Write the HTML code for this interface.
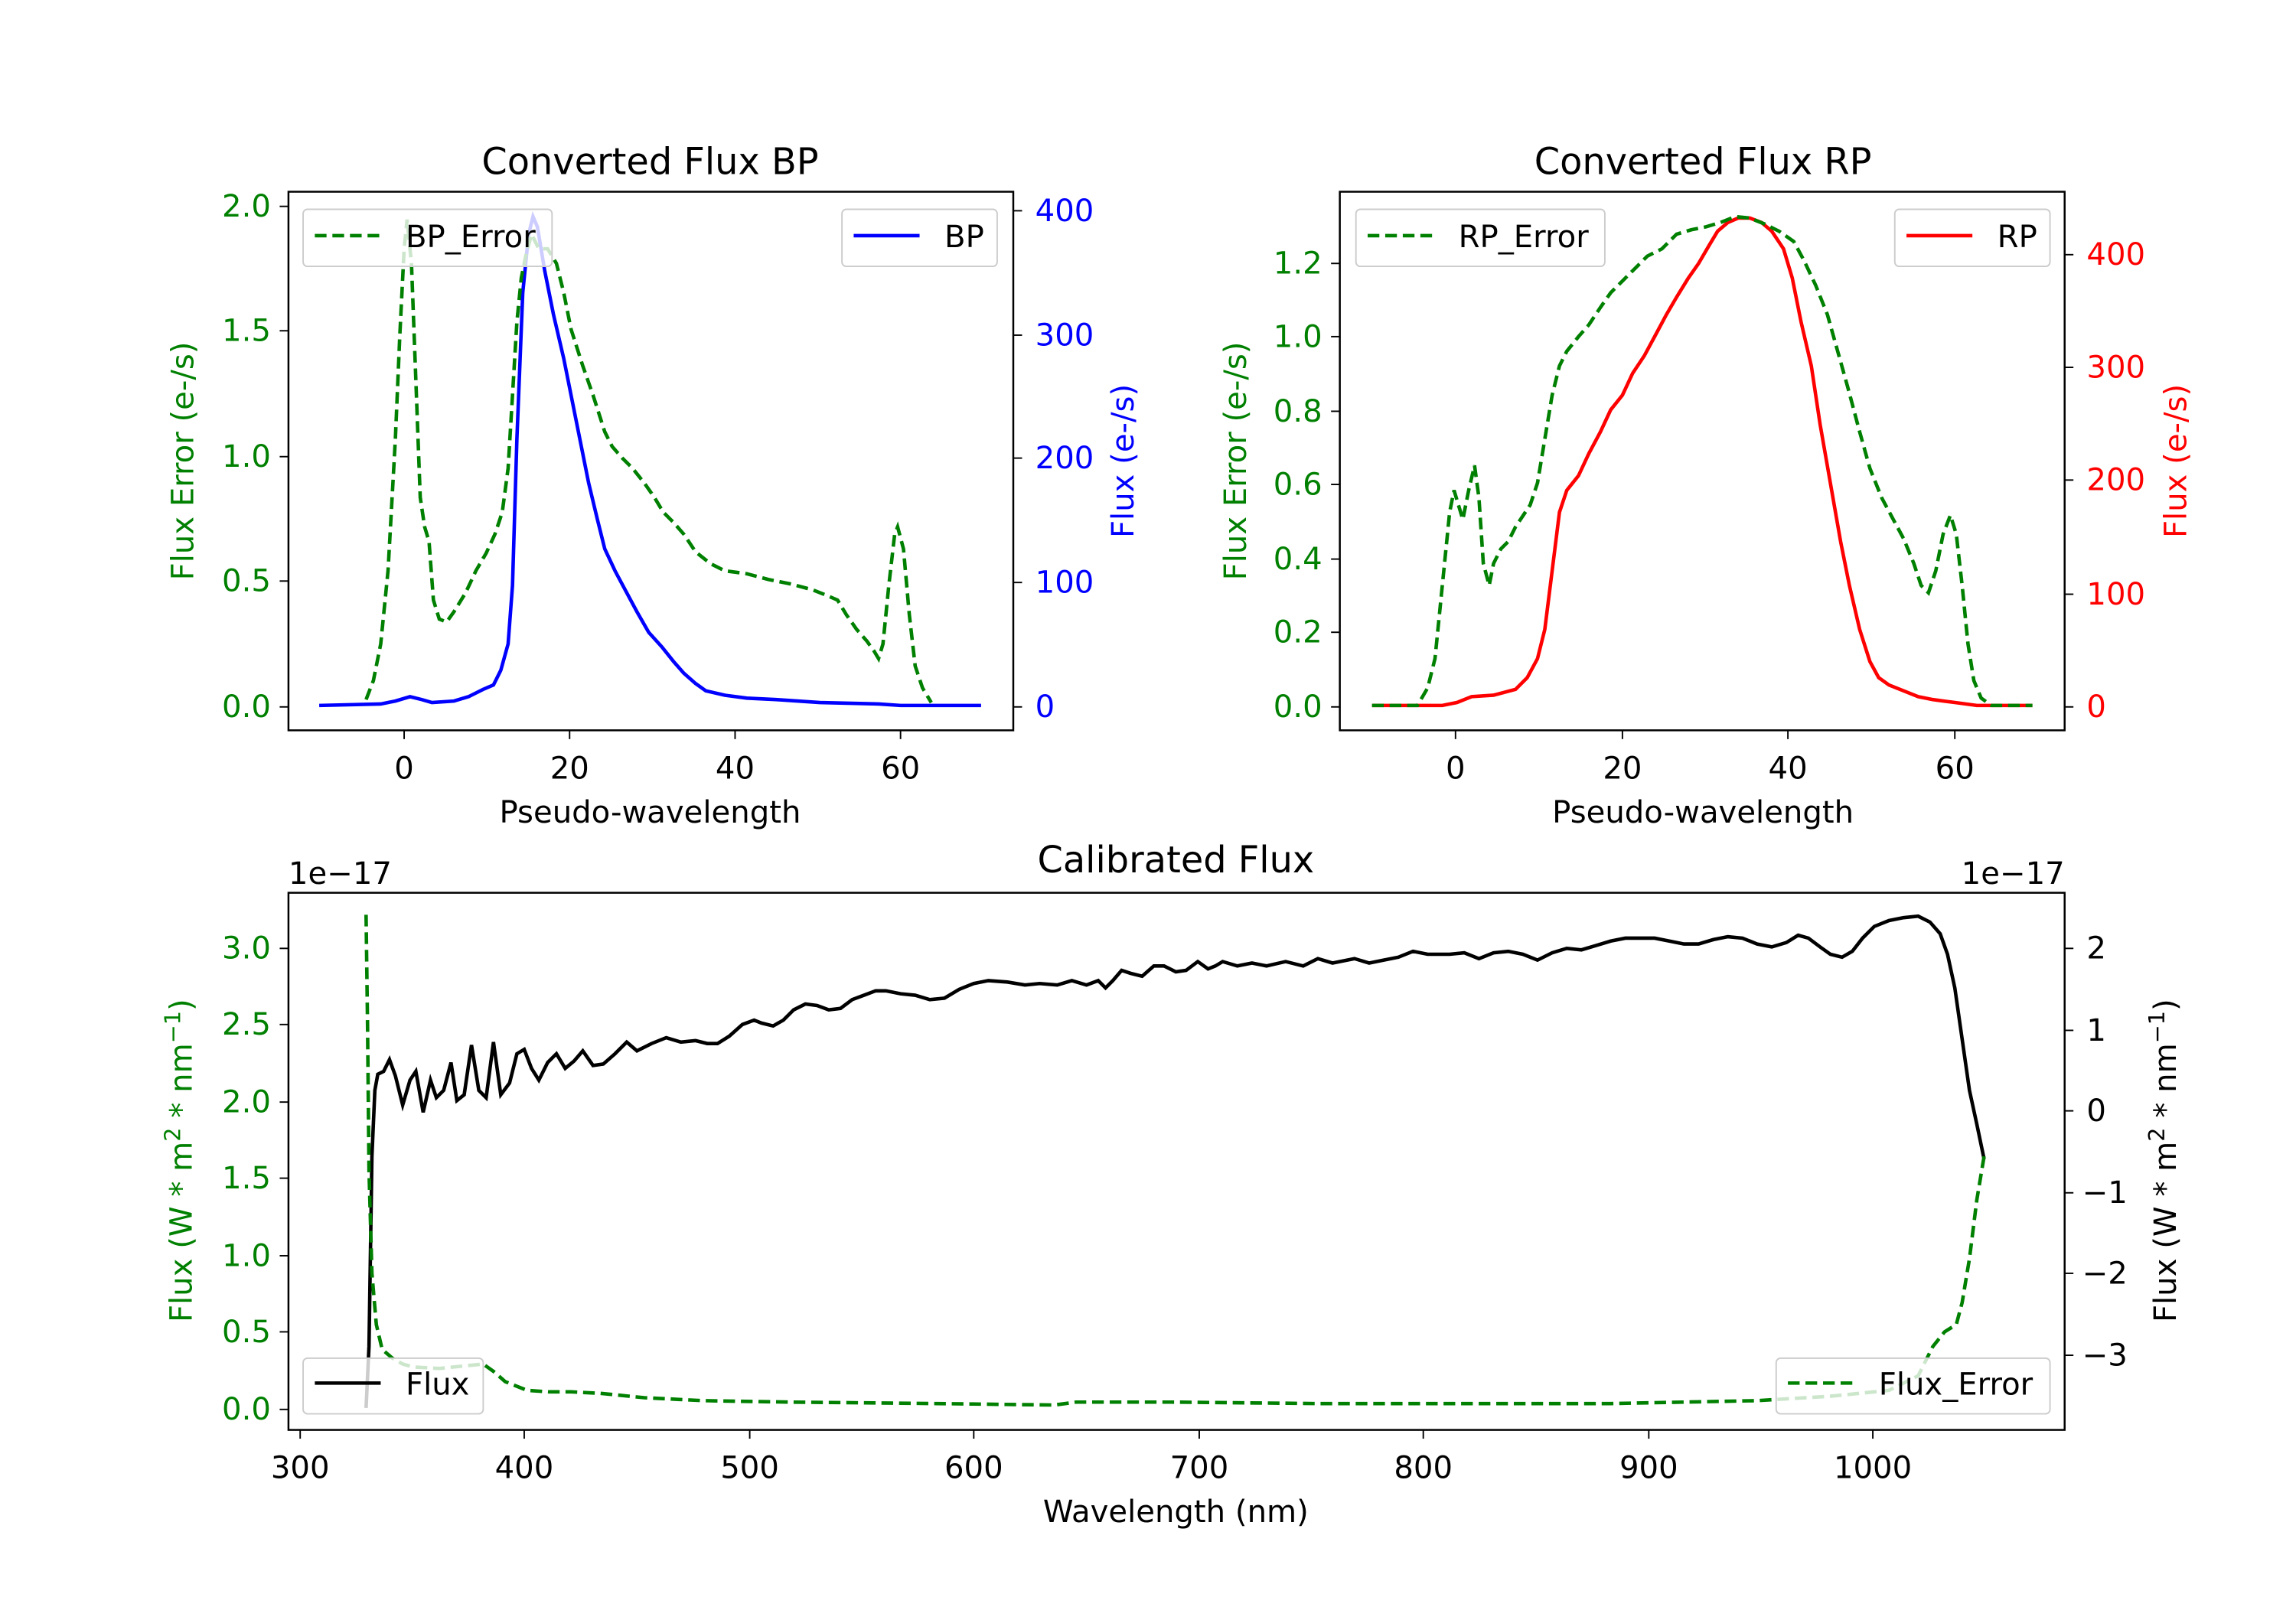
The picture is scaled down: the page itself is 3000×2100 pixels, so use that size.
<!DOCTYPE html>
<html><head><meta charset="utf-8"><style>html,body{margin:0;padding:0;background:#fff}svg{display:block}text{font-family:"DejaVu Sans","Liberation Sans",sans-serif}</style></head><body>
<svg width="3000" height="2100" viewBox="0 0 1568 1098" preserveAspectRatio="none" xmlns="http://www.w3.org/2000/svg">
<rect width="1568" height="1098" fill="#fff"/>
<g font-size="21">
<!-- BP axes -->
<text x="444" y="119" font-size="25" text-anchor="middle">Converted Flux BP</text>
<polyline fill="none" stroke="#00f" stroke-width="2.4" points="218,482 260,481 270,479 280,476 288,478 295,480 310,479 320,476 330,471 337,468 342,458 347,440 350,400 353,300 357,200 361,160 364,148 367,155 372,185 378,215 385,245 390,270 396,300 402,330 408,355 413,375 420,390 428,405 435,418 443,432 452,442 460,452 467,460 475,467 482,472 495,475 510,477 530,478 560,480 600,481 615,482 670,482"/>
<polyline fill="none" stroke="#008000" stroke-width="2.4" stroke-dasharray="8,4" points="250,478 255,465 260,440 265,390 270,300 273,230 276,170 278,150 281,180 284,260 287,340 290,360 293,370 296,410 300,423 305,425 310,418 318,405 325,390 332,378 338,365 343,350 347,320 350,270 353,220 356,190 359,175 363,160 368,170 374,170 380,180 385,200 390,225 398,250 405,270 413,295 418,305 425,313 432,320 440,330 447,340 453,350 460,357 467,365 475,377 485,385 495,390 510,392 525,396 540,399 555,403 565,407 572,410 578,420 585,430 592,438 597,445 600,450 603,440 607,400 611,365 613,360 617,375 621,420 625,455 630,470 636,480"/>
<rect x="197" y="131" width="495" height="368" fill="none" stroke="#000" stroke-width="1.3"/>
<rect x="207" y="143" width="170" height="39" rx="3" fill="#fff" fill-opacity="0.8" stroke="#ccc"/>
<line x1="215" y1="161" x2="260" y2="161" stroke="#008000" stroke-width="2.4" stroke-dasharray="8,4"/>
<text x="277" y="169">BP_Error</text>
<rect x="575" y="143" width="106" height="39" rx="3" fill="#fff" fill-opacity="0.8" stroke="#ccc"/>
<line x1="583" y1="161" x2="628" y2="161" stroke="#00f" stroke-width="2.4"/>
<text x="645" y="169">BP</text>
<g stroke="#000"><line x1="276" y1="499" x2="276" y2="505"/><line x1="389" y1="499" x2="389" y2="505"/><line x1="502" y1="499" x2="502" y2="505"/><line x1="615" y1="499" x2="615" y2="505"/></g>
<g text-anchor="middle"><text x="276" y="532">0</text><text x="389" y="532">20</text><text x="502" y="532">40</text><text x="615" y="532">60</text></g>
<text x="444" y="562" text-anchor="middle">Pseudo-wavelength</text>
<g stroke="#000"><line x1="191" y1="483" x2="197" y2="483"/><line x1="191" y1="397" x2="197" y2="397"/><line x1="191" y1="312" x2="197" y2="312"/><line x1="191" y1="226" x2="197" y2="226"/><line x1="191" y1="141" x2="197" y2="141"/></g>
<g fill="#008000" text-anchor="end"><text x="185" y="490">0.0</text><text x="185" y="404">0.5</text><text x="185" y="319">1.0</text><text x="185" y="233">1.5</text><text x="185" y="148">2.0</text></g>
<text transform="translate(132,315) rotate(-90)" fill="#008000" text-anchor="middle">Flux Error (e-/s)</text>
<g stroke="#000"><line x1="692" y1="483" x2="698" y2="483"/><line x1="692" y1="398" x2="698" y2="398"/><line x1="692" y1="313" x2="698" y2="313"/><line x1="692" y1="229" x2="698" y2="229"/><line x1="692" y1="144" x2="698" y2="144"/></g>
<g fill="#00f"><text x="707" y="490">0</text><text x="707" y="405">100</text><text x="707" y="320">200</text><text x="707" y="236">300</text><text x="707" y="151">400</text></g>
<text transform="translate(774,315) rotate(-90)" fill="#00f" text-anchor="middle">Flux (e-/s)</text>

<!-- RP axes -->
<text x="1163" y="119" font-size="25" text-anchor="middle">Converted Flux RP</text>
<polyline fill="none" stroke="#f00" stroke-width="2.4" points="937,482 985,482 995,480 1005,476 1020,475 1035,471 1043,463 1050,450 1055,430 1060,390 1065,350 1070,335 1078,325 1085,310 1093,295 1100,280 1108,270 1115,255 1123,243 1130,230 1138,215 1145,203 1153,190 1160,180 1167,168 1173,158 1180,152 1187,149 1195,149 1203,152 1210,158 1218,170 1224,190 1230,220 1237,250 1243,290 1250,330 1257,370 1263,400 1270,430 1277,452 1283,463 1290,468 1300,472 1310,476 1320,478 1335,480 1350,482 1388,482"/>
<polyline fill="none" stroke="#008000" stroke-width="2.4" stroke-dasharray="8,4" points="937,482 968,482 975,470 980,450 985,400 990,350 993,335 996,345 999,355 1003,335 1007,318 1010,340 1013,385 1017,400 1020,385 1025,375 1030,370 1035,360 1045,345 1050,330 1055,300 1060,270 1065,250 1070,240 1078,230 1085,222 1093,210 1100,200 1108,192 1115,185 1125,175 1135,170 1145,160 1155,157 1165,155 1175,152 1185,148 1195,149 1205,153 1215,158 1225,165 1232,178 1240,195 1248,215 1255,240 1262,265 1270,295 1277,320 1285,340 1293,355 1300,368 1307,385 1312,400 1317,405 1322,390 1327,365 1332,352 1336,365 1340,400 1344,440 1348,465 1353,477 1360,482 1388,482"/>
<rect x="915" y="131" width="495" height="368" fill="none" stroke="#000" stroke-width="1.3"/>
<rect x="926" y="143" width="170" height="39" rx="3" fill="#fff" fill-opacity="0.8" stroke="#ccc"/>
<line x1="934" y1="161" x2="979" y2="161" stroke="#008000" stroke-width="2.4" stroke-dasharray="8,4"/>
<text x="996" y="169">RP_Error</text>
<rect x="1294" y="143" width="106" height="39" rx="3" fill="#fff" fill-opacity="0.8" stroke="#ccc"/>
<line x1="1302" y1="161" x2="1347" y2="161" stroke="#f00" stroke-width="2.4"/>
<text x="1364" y="169">RP</text>
<g stroke="#000"><line x1="994" y1="499" x2="994" y2="505"/><line x1="1108" y1="499" x2="1108" y2="505"/><line x1="1221" y1="499" x2="1221" y2="505"/><line x1="1335" y1="499" x2="1335" y2="505"/></g>
<g text-anchor="middle"><text x="994" y="532">0</text><text x="1108" y="532">20</text><text x="1221" y="532">40</text><text x="1335" y="532">60</text></g>
<text x="1163" y="562" text-anchor="middle">Pseudo-wavelength</text>
<g stroke="#000"><line x1="909" y1="483" x2="915" y2="483"/><line x1="909" y1="432" x2="915" y2="432"/><line x1="909" y1="382" x2="915" y2="382"/><line x1="909" y1="331" x2="915" y2="331"/><line x1="909" y1="281" x2="915" y2="281"/><line x1="909" y1="230" x2="915" y2="230"/><line x1="909" y1="180" x2="915" y2="180"/></g>
<g fill="#008000" text-anchor="end"><text x="903" y="490">0.0</text><text x="903" y="439">0.2</text><text x="903" y="389">0.4</text><text x="903" y="338">0.6</text><text x="903" y="288">0.8</text><text x="903" y="237">1.0</text><text x="903" y="187">1.2</text></g>
<text transform="translate(851,315) rotate(-90)" fill="#008000" text-anchor="middle">Flux Error (e-/s)</text>
<g stroke="#000"><line x1="1410" y1="483" x2="1416" y2="483"/><line x1="1410" y1="406" x2="1416" y2="406"/><line x1="1410" y1="328" x2="1416" y2="328"/><line x1="1410" y1="251" x2="1416" y2="251"/><line x1="1410" y1="174" x2="1416" y2="174"/></g>
<g fill="#f00"><text x="1425" y="490">0</text><text x="1425" y="413">100</text><text x="1425" y="335">200</text><text x="1425" y="258">300</text><text x="1425" y="181">400</text></g>
<text transform="translate(1493,315) rotate(-90)" fill="#f00" text-anchor="middle">Flux (e-/s)</text>

<!-- Bottom axes -->
<text x="803" y="596" font-size="25" text-anchor="middle">Calibrated Flux</text>
<text x="197" y="604">1e−17</text>
<text x="1410" y="604" text-anchor="end">1e−17</text>
<polyline fill="none" stroke="#000" stroke-width="2.4" points="250,962 252,920 254,790 256,745 258,734 262,732 266,724 270,735 275,755 280,738 284,732 289,760 294,738 298,750 303,745 308,726 312,752 317,748 322,714 327,745 332,750 337,712 342,748 348,740 353,720 358,717 363,730 368,738 374,726 380,720 386,730 392,725 398,718 405,728 412,727 420,720 428,712 435,718 445,713 455,709 465,712 475,711 483,713 490,713 498,708 507,700 515,697 520,699 528,701 535,697 542,690 550,686 558,687 566,690 574,689 582,683 590,680 598,677 605,677 615,679 625,680 635,683 645,682 655,676 665,672 675,670 688,671 700,673 710,672 722,673 732,670 742,673 750,670 755,675 760,670 766,663 772,665 780,667 788,660 795,660 803,664 810,663 818,657 825,662 830,660 835,657 845,660 855,658 865,660 878,657 890,660 900,655 910,658 925,655 935,658 945,656 955,654 965,650 975,652 990,652 1000,651 1010,655 1020,651 1030,650 1040,652 1050,656 1060,651 1070,648 1080,649 1090,646 1100,643 1110,641 1120,641 1130,641 1140,643 1150,645 1160,645 1170,642 1180,640 1190,641 1200,645 1210,647 1220,644 1228,639 1235,641 1243,647 1250,652 1258,654 1265,650 1272,641 1280,633 1290,629 1300,627 1310,626 1318,630 1325,638 1330,652 1335,675 1340,710 1345,745 1350,768 1355,792"/>
<polyline fill="none" stroke="#008000" stroke-width="2.4" stroke-dasharray="8,4" points="250,625 251,700 252,800 254,870 257,905 261,922 268,928 275,932 282,934 300,935 320,933 330,932 337,937 345,944 360,950 375,951 390,951 410,952 440,955 480,957 540,958 640,959 720,960 735,958 800,958 900,959 1000,959 1100,959 1200,957 1250,954 1290,950 1310,940 1320,920 1328,910 1336,905 1340,890 1345,860 1350,820 1355,790"/>
<rect x="197" y="610" width="1213" height="367" fill="none" stroke="#000" stroke-width="1.3"/>
<rect x="207" y="928" width="123" height="38" rx="3" fill="#fff" fill-opacity="0.8" stroke="#ccc"/>
<line x1="215" y1="945" x2="260" y2="945" stroke="#000" stroke-width="2.4"/>
<text x="277" y="953">Flux</text>
<rect x="1213" y="928" width="187" height="38" rx="3" fill="#fff" fill-opacity="0.8" stroke="#ccc"/>
<line x1="1221" y1="945" x2="1266" y2="945" stroke="#008000" stroke-width="2.4" stroke-dasharray="8,4"/>
<text x="1283" y="953">Flux_Error</text>
<g stroke="#000"><line x1="205" y1="977" x2="205" y2="983"/><line x1="358" y1="977" x2="358" y2="983"/><line x1="512" y1="977" x2="512" y2="983"/><line x1="665" y1="977" x2="665" y2="983"/><line x1="819" y1="977" x2="819" y2="983"/><line x1="972" y1="977" x2="972" y2="983"/><line x1="1126" y1="977" x2="1126" y2="983"/><line x1="1279" y1="977" x2="1279" y2="983"/></g>
<g text-anchor="middle"><text x="205" y="1010">300</text><text x="358" y="1010">400</text><text x="512" y="1010">500</text><text x="665" y="1010">600</text><text x="819" y="1010">700</text><text x="972" y="1010">800</text><text x="1126" y="1010">900</text><text x="1279" y="1010">1000</text></g>
<text x="803" y="1040" text-anchor="middle">Wavelength (nm)</text>
<g stroke="#000"><line x1="191" y1="963" x2="197" y2="963"/><line x1="191" y1="910" x2="197" y2="910"/><line x1="191" y1="858" x2="197" y2="858"/><line x1="191" y1="805" x2="197" y2="805"/><line x1="191" y1="753" x2="197" y2="753"/><line x1="191" y1="700" x2="197" y2="700"/><line x1="191" y1="648" x2="197" y2="648"/></g>
<g fill="#008000" text-anchor="end"><text x="185" y="970">0.0</text><text x="185" y="917">0.5</text><text x="185" y="865">1.0</text><text x="185" y="812">1.5</text><text x="185" y="760">2.0</text><text x="185" y="707">2.5</text><text x="185" y="655">3.0</text></g>
<text transform="translate(131,793) rotate(-90)" fill="#008000" text-anchor="middle">Flux (W * m<tspan font-size="15" dy="-8">2</tspan><tspan dy="8"> * nm</tspan><tspan font-size="15" dy="-8">−1</tspan><tspan dy="8">)</tspan></text>
<g stroke="#000"><line x1="1410" y1="926" x2="1416" y2="926"/><line x1="1410" y1="870" x2="1416" y2="870"/><line x1="1410" y1="815" x2="1416" y2="815"/><line x1="1410" y1="759" x2="1416" y2="759"/><line x1="1410" y1="704" x2="1416" y2="704"/><line x1="1410" y1="648" x2="1416" y2="648"/></g>
<g><text x="1422" y="933">−3</text><text x="1422" y="877">−2</text><text x="1422" y="822">−1</text><text x="1425" y="766">0</text><text x="1425" y="711">1</text><text x="1425" y="655">2</text></g>
<text transform="translate(1486,793) rotate(-90)" text-anchor="middle">Flux (W * m<tspan font-size="15" dy="-8">2</tspan><tspan dy="8"> * nm</tspan><tspan font-size="15" dy="-8">−1</tspan><tspan dy="8">)</tspan></text>
</g>
</svg>
</body></html>
